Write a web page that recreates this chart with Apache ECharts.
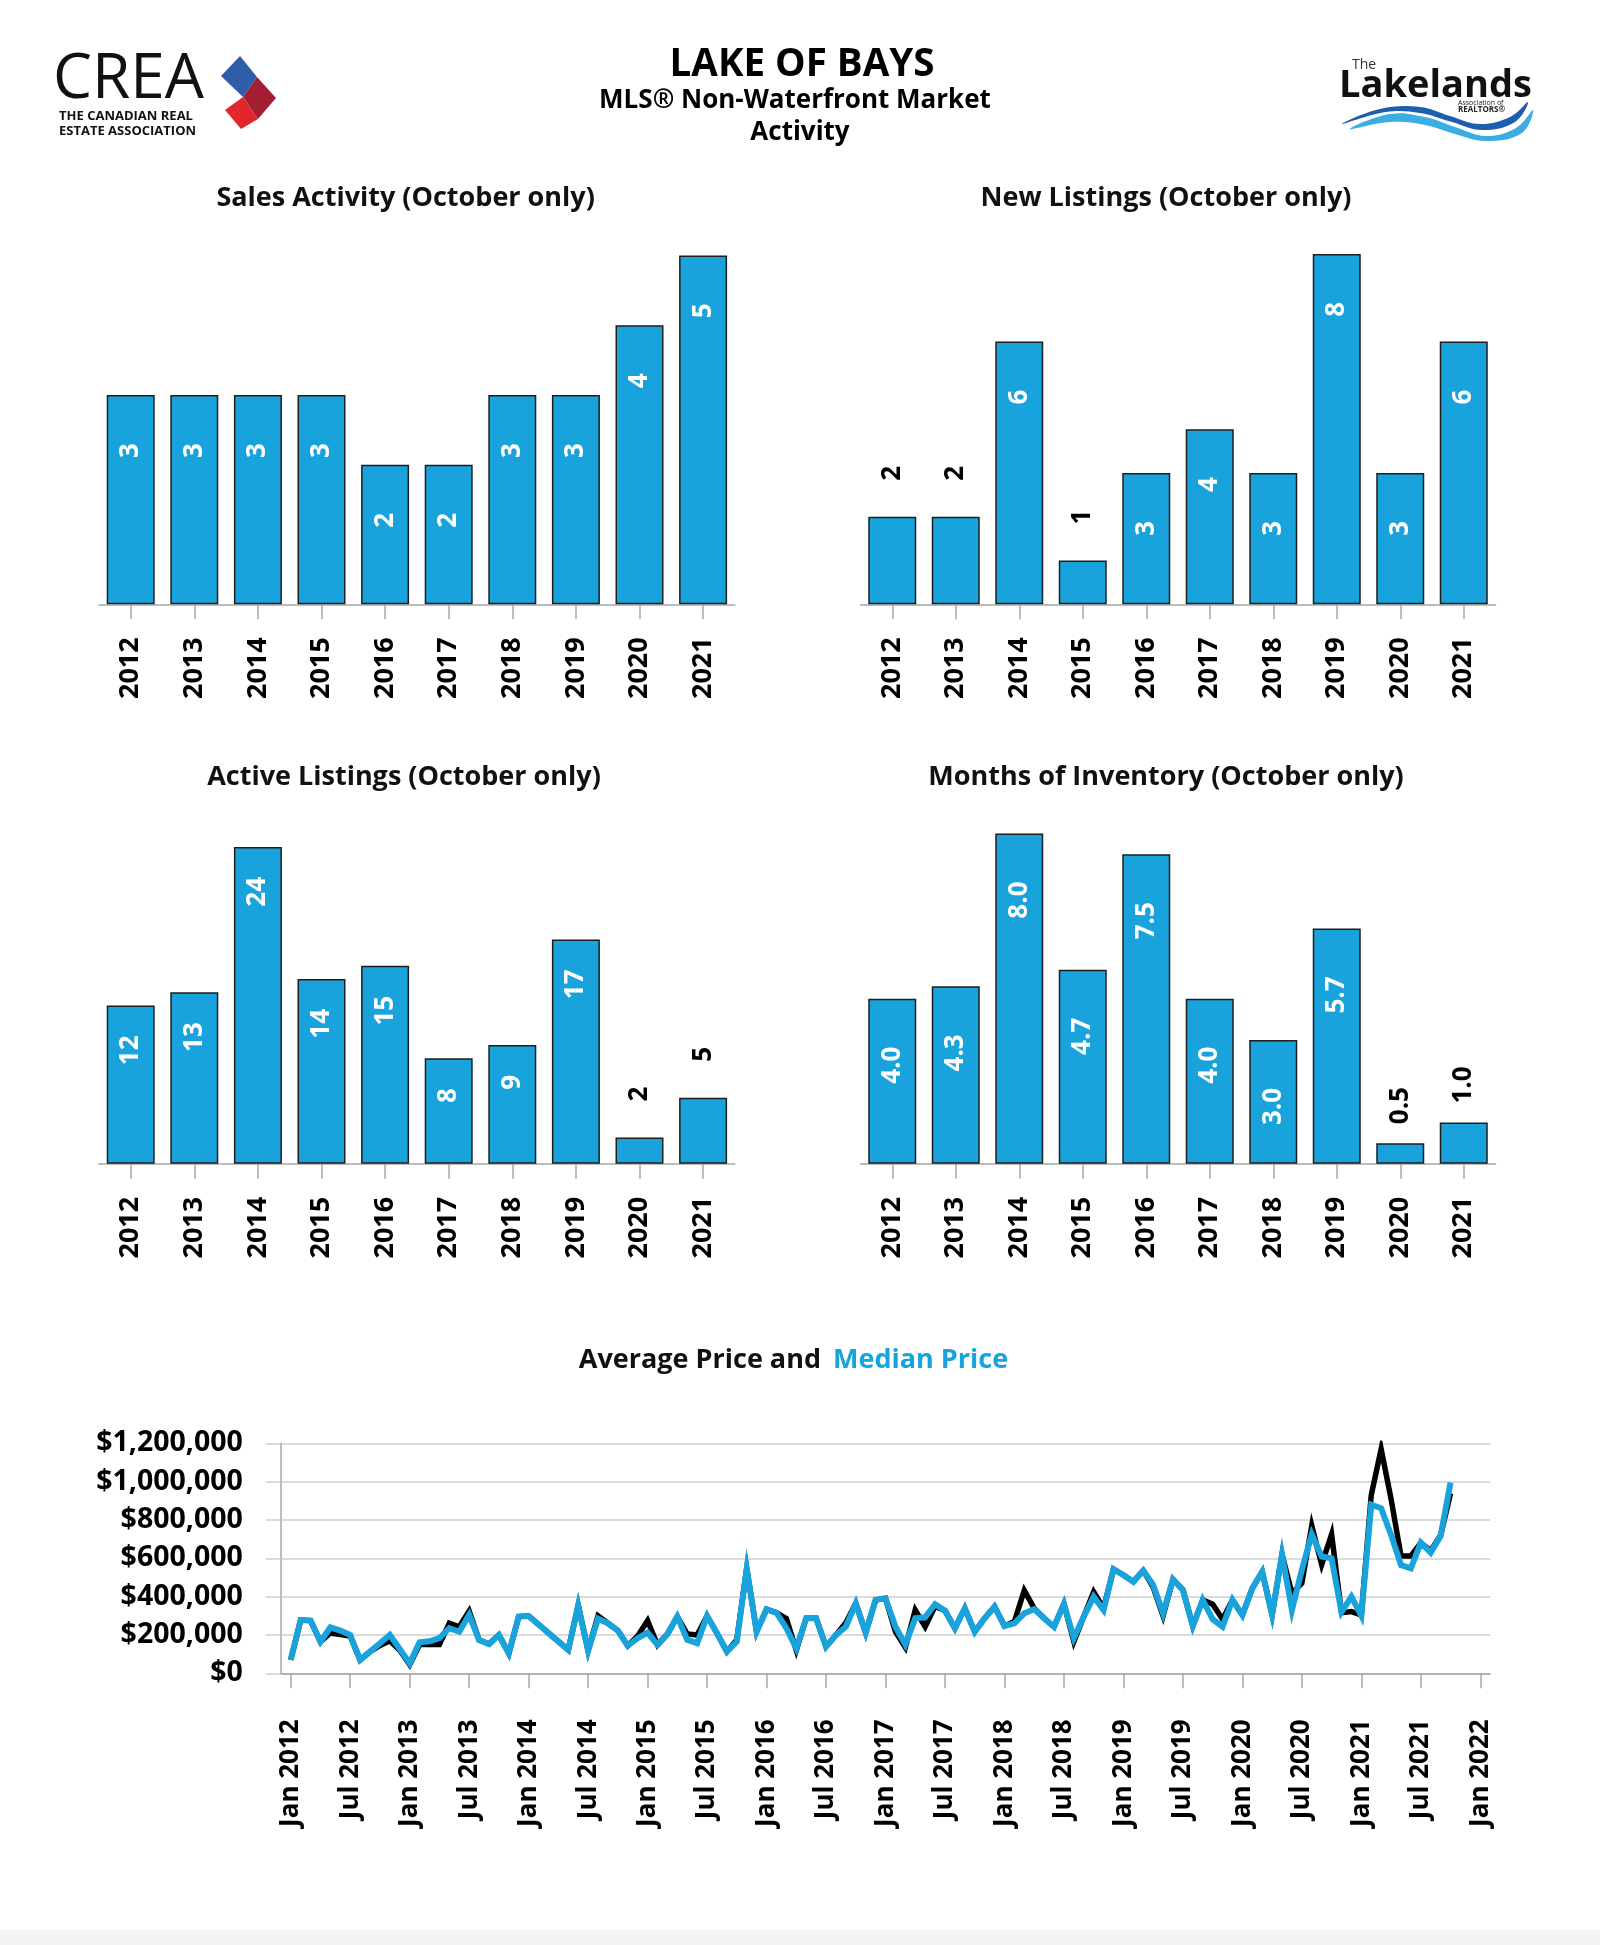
<!DOCTYPE html>
<html>
<head>
<meta charset="utf-8">
<script src="https://cdn.jsdelivr.net/npm/echarts@6/dist/echarts.min.js"></script>
<style>
html,body{margin:0;padding:0;background:#fff;}
#c{width:1600px;height:1945px;}
</style>
</head>
<body>
<div id="c"></div>
<script>
// ---------- DATA ----------
const years = ['2012','2013','2014','2015','2016','2017','2018','2019','2020','2021'];
const salesActivity   = [3, 3, 3, 3, 2, 2, 3, 3, 4, 5];
const newListings     = [2, 2, 6, 1, 3, 4, 3, 8, 3, 6];
const activeListings  = [12, 13, 24, 14, 15, 8, 9, 17, 2, 5];
const monthsInventory = [4.0, 4.3, 8.0, 4.7, 7.5, 4.0, 3.0, 5.7, 0.5, 1.0];

const monthNames = ['Jan','Feb','Mar','Apr','May','Jun','Jul','Aug','Sep','Oct','Nov','Dec'];
const priceTicks = [0, 200000, 400000, 600000, 800000, 1000000, 1200000];

// monthly values Jan 2012 .. Oct 2021 (null = no data)
const medianPrice = [
  70000, 278000, 275000, 165000, 240000, 223000, 200000, 70000, 113000, 157000, 200000, 127000,
  52000, 162000, 167000, 183000, 235000, 217000, 305000, 174000, 153000, 200000, 104000, 296000,
  299000, null, null, null, 122000, 354000, 118000, 285000, 261000, 223000, 144000, 183000,
  212000, 148000, 205000, 296000, 174000, 157000, 299000, 209000, 113000, 165000, 546000, 217000,
  334000, 316000, 235000, 130000, 287000, 287000, 139000, 200000, 243000, 365000, 212000, 383000,
  391000, 243000, 150000, 287000, 292000, 360000, 327000, 235000, 339000, 217000, 287000, 348000,
  247000, 261000, 313000, 334000, 287000, 243000, 362000, 183000, 296000, 400000, 330000, 543000,
  513000, 478000, 536000, 461000, 313000, 490000, 435000, 247000, 383000, 282000, 243000, 383000,
  304000, 443000, 530000, 305000, 620000, 330000, 540000, 725000, 609000, 600000, 320000, 400000,
  300000, 880000, 861000, 722000, 565000, 548000, 682000, 630000, 717000, 995000
];
const averagePrice = [
  70000, 278000, 275000, 165000, 210000, 202000, 195000, 70000, 113000, 145000, 170000, 120000,
  45000, 150000, 150000, 150000, 261000, 243000, 325000, 174000, 153000, 200000, 104000, 296000,
  299000, null, null, null, 122000, 354000, 118000, 300000, 261000, 223000, 144000, 195000,
  275000, 148000, 205000, 296000, 205000, 200000, 299000, 209000, 113000, 175000, 546000, 217000,
  334000, 316000, 285000, 120000, 287000, 287000, 139000, 200000, 264000, 365000, 212000, 383000,
  391000, 217000, 135000, 330000, 243000, 350000, 327000, 235000, 339000, 217000, 287000, 348000,
  247000, 270000, 432000, 339000, 287000, 243000, 362000, 165000, 296000, 425000, 340000, 543000,
  513000, 478000, 536000, 450000, 300000, 490000, 435000, 247000, 383000, 360000, 282000, 383000,
  304000, 443000, 530000, 305000, 620000, 417000, 470000, 770000, 567000, 725000, 316000, 322000,
  304000, 930000, 1170000, 910000, 612000, 612000, 680000, 640000, 720000, 939000
];

// month categories for the price axis: Dec 2011 .. Feb 2022
const months = ['Dec 2011'];
for (let y = 2012; y <= 2021; y++) for (const m of monthNames) months.push(m + ' ' + y);
months.push('Jan 2022', 'Feb 2022');

// ---------- STYLE ----------
const FONT = "'Open Sans', 'Noto Sans', sans-serif";
const BLUE = '#18a3dc';
const AXIS_GRAY = '#a6a6a6';

const chart = echarts.init(document.getElementById('c'), null, {renderer: 'canvas', width: 1600, height: 1945});

const barGrids = [
  {left: 98.9, top: 255.5, width: 636, height: 348.8},
  {left: 860.5, top: 254, width: 635, height: 350.3},
  {left: 98.9, top: 847, width: 636, height: 316.8},
  {left: 860.5, top: 833.5, width: 635, height: 330.3}
];
const barMax = [5, 8, 24, 8];

function barXAxis(i) {
  return {
    type: 'category', gridIndex: i, data: years,
    axisLine: {show: true, lineStyle: {color: AXIS_GRAY, width: 1.5}},
    axisTick: {show: true, alignWithLabel: true, length: 15, lineStyle: {color: AXIS_GRAY, width: 1.5}},
    axisLabel: {show: true, interval: 0, rotate: 90, margin: 33, color: '#000',
      fontFamily: FONT, fontWeight: 'bold', fontSize: 27}
  };
}
function barYAxis(i) {
  return {type: 'value', gridIndex: i, min: 0, max: barMax[i], show: false, splitLine: {show: false}};
}
function barSeries(i, values, fmt, inDist, outDist) {
  const max = barMax[i];
  return {
    type: 'bar', xAxisIndex: i, yAxisIndex: i, barWidth: 48,
    itemStyle: {color: BLUE, borderColor: '#1e1e1e', borderWidth: 1.5},
    label: {show: true, rotate: 90, verticalAlign: 'middle', fontFamily: FONT,
      fontWeight: 'bold', fontSize: 26, formatter: p => fmt(p.value)},
    data: values.map(v => ({
      value: v,
      label: (v / max < 0.3)
        ? {position: 'top', distance: outDist, align: 'left', color: '#000'}
        : {position: 'insideTop', distance: inDist, align: 'right', color: '#fff'}
    }))
  };
}

const priceGrid = {left: 280.8, top: 1443.3, width: 1209.4, height: 230};

function isHalfYear(idx, val) {
  const m = String(val).slice(0, 3);
  return m === 'Jan' || m === 'Jul';
}

const graphic = [
  // header
  {type: 'text', x: 802, y: 65, style: {text: 'LAKE OF BAYS', fill: '#000', font: "bold 38.5px " + FONT, align: 'center', verticalAlign: 'middle'}},
  {type: 'text', x: 795, y: 101, style: {text: 'MLS® Non-Waterfront Market', fill: '#000', font: "bold 26px " + FONT, align: 'center', verticalAlign: 'middle'}},
  {type: 'text', x: 800, y: 133, style: {text: 'Activity', fill: '#000', font: "bold 26px " + FONT, align: 'center', verticalAlign: 'middle'}},
  // chart titles
  {type: 'text', x: 405.6, y: 198, style: {text: 'Sales Activity (October only)', fill: '#111', font: "bold 27px " + FONT, align: 'center', verticalAlign: 'middle'}},
  {type: 'text', x: 1166, y: 198, style: {text: 'New Listings (October only)', fill: '#111', font: "bold 27px " + FONT, align: 'center', verticalAlign: 'middle'}},
  {type: 'text', x: 404, y: 777, style: {text: 'Active Listings (October only)', fill: '#111', font: "bold 27px " + FONT, align: 'center', verticalAlign: 'middle'}},
  {type: 'text', x: 1166, y: 777, style: {text: 'Months of Inventory (October only)', fill: '#111', font: "bold 27px " + FONT, align: 'center', verticalAlign: 'middle'}},
  {type: 'text', x: 821, y: 1360, style: {text: 'Average Price and', fill: '#111', font: "bold 27px " + FONT, align: 'right', verticalAlign: 'middle'}},
  {type: 'text', x: 833, y: 1360, style: {text: 'Median Price', fill: BLUE, font: "bold 27px " + FONT, align: 'left', verticalAlign: 'middle'}},
  // CREA logo
  {type: 'text', x: 53, y: 80, style: {text: 'CREA', fill: '#111', font: "400 62px " + FONT, align: 'left', verticalAlign: 'middle'}},
  {type: 'text', x: 59, y: 116, style: {text: 'THE CANADIAN REAL', fill: '#111', font: "bold 13px " + FONT, align: 'left', verticalAlign: 'middle'}},
  {type: 'text', x: 59, y: 131, style: {text: 'ESTATE ASSOCIATION', fill: '#111', font: "bold 13px " + FONT, align: 'left', verticalAlign: 'middle'}},
  {type: 'polygon', shape: {points: [[240,56],[257,77],[243,97],[221,76]]}, style: {fill: '#2f5da9'}},
  {type: 'polygon', shape: {points: [[257,77],[276,98],[258,119],[243,97]]}, style: {fill: '#a31d33'}},
  {type: 'polygon', shape: {points: [[243,97],[258,119],[241,129],[225,110]]}, style: {fill: '#e1262d'}},
  // Lakelands logo
  {type: 'text', x: 1352, y: 65, style: {text: 'The', fill: '#333', font: "400 14px " + FONT, align: 'left', verticalAlign: 'middle'}},
  {type: 'text', x: 1339, y: 86, style: {text: 'Lakelands', fill: '#111', font: "bold 38px " + FONT, align: 'left', verticalAlign: 'middle'}},
  {type: 'text', x: 1458, y: 103, style: {text: 'Association of', fill: '#222', font: "400 7px " + FONT, align: 'left', verticalAlign: 'middle'}},
  {type: 'text', x: 1458, y: 110, style: {text: 'REALTORS®', fill: '#222', font: "bold 8px " + FONT, align: 'left', verticalAlign: 'middle'}},
  {type: 'polygon', shape: {smooth: 0.4, points: [[1342,124],[1380,109],[1420,107],[1450,116],[1480,124],[1510,117],[1528,102],[1515,122],[1482,130],[1452,122],[1420,113],[1386,112]]}, style: {fill: '#1d5fae'}},
  {type: 'polygon', shape: {smooth: 0.4, points: [[1350,129],[1390,114],[1425,117],[1455,127],[1486,136],[1516,128],[1533,110],[1522,133],[1486,141],[1455,134],[1425,125],[1390,122]]}, style: {fill: '#3aaee3'}},
  // bottom band
  {type: 'rect', shape: {x: 0, y: 1930, width: 1600, height: 15}, style: {fill: '#f3f3f3'}}
];

const option = {
  animation: false,
  backgroundColor: '#ffffff',
  textStyle: {fontFamily: FONT},
  graphic: graphic,
  grid: barGrids.map(g => Object.assign({containLabel: false, outerBoundsMode: 'none'}, g))
    .concat([Object.assign({containLabel: false, outerBoundsMode: 'none'}, priceGrid)]),
  xAxis: [barXAxis(0), barXAxis(1), barXAxis(2), barXAxis(3), {
    type: 'category', gridIndex: 4, data: months, boundaryGap: false,
    axisLine: {show: true, lineStyle: {color: AXIS_GRAY, width: 1.5}},
    axisTick: {show: true, length: 15, interval: isHalfYear, lineStyle: {color: AXIS_GRAY, width: 1.5}},
    axisLabel: {show: true, interval: isHalfYear, rotate: 90, margin: 46, color: '#000',
      fontFamily: FONT, fontWeight: 'bold', fontSize: 26},
    splitLine: {show: false}
  }],
  yAxis: [barYAxis(0), barYAxis(1), barYAxis(2), barYAxis(3), {
    type: 'value', gridIndex: 4, min: priceTicks[0], max: priceTicks[priceTicks.length - 1],
    interval: priceTicks[1] - priceTicks[0],
    axisLine: {show: true, lineStyle: {color: AXIS_GRAY, width: 1.5}},
    axisTick: {show: true, length: 15, lineStyle: {color: '#cfcfcf', width: 1.5}},
    axisLabel: {show: true, margin: 38, color: '#000', fontFamily: FONT, fontWeight: 'bold', fontSize: 28.5,
      formatter: v => '$' + Number(v).toLocaleString('en-US')},
    splitLine: {show: true, lineStyle: {color: '#cfcfcf', width: 1.5}}
  }],
  series: [
    barSeries(0, salesActivity, v => String(v), 48, 36),
    barSeries(1, newListings, v => String(v), 48, 36),
    barSeries(2, activeListings, v => String(v), 30, 36),
    barSeries(3, monthsInventory, v => Number(v).toFixed(1), 48, 19),
    {
      name: 'Average Price', type: 'line', xAxisIndex: 4, yAxisIndex: 4,
      data: [null].concat(averagePrice), connectNulls: true, symbol: 'none', showSymbol: false,
      lineStyle: {color: '#000', width: 5.5, join: 'miter', miterLimit: 10}, z: 2
    },
    {
      name: 'Median Price', type: 'line', xAxisIndex: 4, yAxisIndex: 4,
      data: [null].concat(medianPrice), connectNulls: true, symbol: 'none', showSymbol: false,
      lineStyle: {color: BLUE, width: 6, join: 'miter', miterLimit: 10}, z: 3
    }
  ]
};
chart.setOption(option);
</script>
</body>
</html>
